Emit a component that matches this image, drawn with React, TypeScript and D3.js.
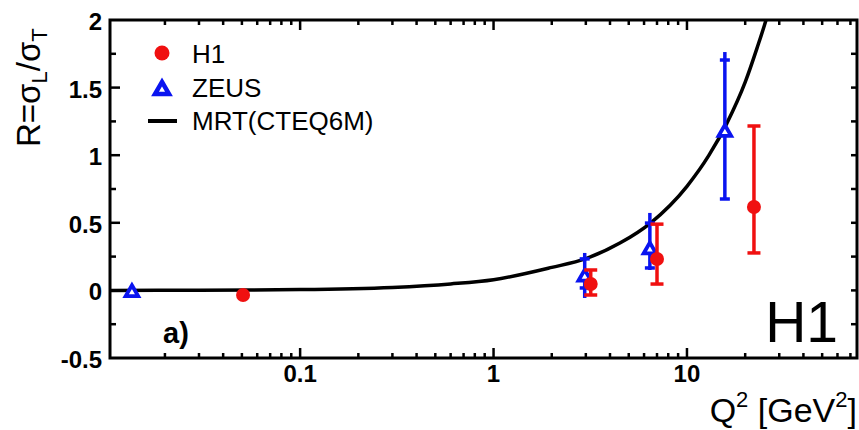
import React from "react";
import * as d3 from "d3";

// ---- data ----
const h1Q2 = [0.0507, 3.18, 7.0, 22.2];
const h1R = [-0.034, 0.047, 0.232, 0.617];
const h1Lo = [-0.034, -0.034, 0.047, 0.277];
const h1Hi = [-0.034, 0.151, 0.49, 1.216];

const zeusQ2 = [0.0135, 2.96, 6.43, 15.7];
const zeusR = [-0.015, 0.099, 0.3, 1.17];
const zeusStatLo = [-0.015, 0.018, 0.166, 0.676];
const zeusStatHi = [-0.015, 0.233, 0.498, 1.704];
const zeusTotLo = [-0.015, -0.056, 0.151, 0.669];
const zeusTotHi = [-0.015, 0.277, 0.573, 1.763];

const mrtQ2 = [0.0104, 0.03, 0.1, 0.3, 0.6, 1, 2, 3, 4.5, 6.5, 10, 13, 16, 20, 23, 26, 28];
const mrtR = [0.0, 0.002, 0.006, 0.022, 0.048, 0.079, 0.17, 0.235, 0.35, 0.5, 0.77, 1.0, 1.23, 1.54, 1.79, 2.03, 2.2];

const xMajorTicks = [0.1, 1, 10];
const xTickLabels = ["0.1", "1", "10"];
const yMajorTicks = [-0.5, 0, 0.5, 1, 1.5, 2];
const yTickLabels = ["-0.5", "0", "0.5", "1", "1.5", "2"];

const W = 859;
const H = 430;
const L = 110, R = 857, T = 20, B = 358;

const FONT = "'Liberation Sans', Arial, Helvetica, sans-serif";
const RED = "#f01010";
const BLUE = "#0a14f0";

export default function App() {
  const x = d3.scaleLog().domain([0.0104, 75.7]).range([L, R]);
  const y = d3.scaleLinear().domain([-0.5, 2]).range([B, T]);

  const xMinor: number[] = [];
  for (const dec of [0.01, 0.1, 1, 10]) {
    for (let k = 2; k <= 9; k++) {
      const v = dec * k;
      if (v > 0.0104 && v < 75.7) xMinor.push(v);
    }
  }
  const yMinor = d3.range(-0.25, 2, 0.5);

  const line = d3
    .line<[number, number]>()
    .x((d) => x(d[0]))
    .y((d) => y(d[1]))
    .curve(d3.curveMonotoneX);
  const mrtPath = line(mrtQ2.map((q, i) => [q, mrtR[i]] as [number, number])) || "";

  const tri = (cx: number, cy: number, s: number) => {
    const h = (s * Math.sqrt(3)) / 2;
    return `M${cx},${cy - (2 * h) / 3}L${cx + s / 2},${cy + h / 3}L${cx - s / 2},${cy + h / 3}Z`;
  };

  return (
    <svg
      width={W}
      height={H}
      style={{ position: "absolute", left: 0, top: 0, background: "#fff" }}
      fontFamily={FONT}
    >
      <defs>
        <clipPath id="plotclip">
          <rect x={L} y={T} width={R - L} height={B - T} />
        </clipPath>
      </defs>
      <rect x={0} y={0} width={W} height={H} fill="#fff" />

      {/* curve */}
      <path d={mrtPath} fill="none" stroke="#000" strokeWidth={3.5} clipPath="url(#plotclip)" />

      {/* ZEUS */}
      {zeusQ2.map((q, i) => {
        const cx = x(q);
        const hasErr = zeusTotHi[i] - zeusTotLo[i] > 0.01;
        return (
          <g key={"z" + i}>
            {hasErr && (
              <>
                <line x1={cx} x2={cx} y1={y(zeusTotLo[i])} y2={y(zeusTotHi[i])} stroke={BLUE} strokeWidth={3.5} />
                <line x1={cx - 5} x2={cx + 5} y1={y(zeusStatHi[i])} y2={y(zeusStatHi[i])} stroke={BLUE} strokeWidth={3.5} />
                <line x1={cx - 5} x2={cx + 5} y1={y(zeusStatLo[i])} y2={y(zeusStatLo[i])} stroke={BLUE} strokeWidth={3.5} />
              </>
            )}
            <path d={tri(cx, y(zeusR[i]), 12.5)} fill="#fff" stroke={BLUE} strokeWidth={3.8} />
          </g>
        );
      })}

      {/* H1 */}
      {h1Q2.map((q, i) => {
        const cx = x(q);
        const hasErr = h1Hi[i] - h1Lo[i] > 0.01;
        return (
          <g key={"h" + i}>
            {hasErr && (
              <>
                <line x1={cx} x2={cx} y1={y(h1Lo[i])} y2={y(h1Hi[i])} stroke={RED} strokeWidth={3.5} />
                <line x1={cx - 6.5} x2={cx + 6.5} y1={y(h1Hi[i])} y2={y(h1Hi[i])} stroke={RED} strokeWidth={3.5} />
                <line x1={cx - 6.5} x2={cx + 6.5} y1={y(h1Lo[i])} y2={y(h1Lo[i])} stroke={RED} strokeWidth={3.5} />
              </>
            )}
            <circle cx={cx} cy={y(h1R[i])} r={7} fill={RED} />
          </g>
        );
      })}

      {/* ticks */}
      <g stroke="#000" strokeWidth={2.5}>
        {xMajorTicks.map((v) => (
          <g key={"xM" + v}>
            <line x1={x(v)} x2={x(v)} y1={B} y2={B - 10} />
            <line x1={x(v)} x2={x(v)} y1={T} y2={T + 10} />
          </g>
        ))}
        {xMinor.map((v) => (
          <g key={"xm" + v}>
            <line x1={x(v)} x2={x(v)} y1={B} y2={B - 5} />
            <line x1={x(v)} x2={x(v)} y1={T} y2={T + 5} />
          </g>
        ))}
        {yMajorTicks.slice(1, -1).map((v) => (
          <g key={"yM" + v}>
            <line x1={L} x2={L + 10} y1={y(v)} y2={y(v)} />
            <line x1={R} x2={R - 6} y1={y(v)} y2={y(v)} />
          </g>
        ))}
        {yMinor.map((v) => (
          <g key={"ym" + v}>
            <line x1={L} x2={L + 6} y1={y(v)} y2={y(v)} />
            <line x1={R} x2={R - 6} y1={y(v)} y2={y(v)} />
          </g>
        ))}
      </g>

      {/* frame */}
      <rect x={L} y={T} width={R - L} height={B - T} fill="none" stroke="#000" strokeWidth={3} />

      {/* tick labels */}
      <g fontWeight="bold" fontSize={24} fill="#000">
        {xMajorTicks.map((v, i) => (
          <text key={"xl" + v} x={x(v)} y={382} textAnchor="middle">
            {xTickLabels[i]}
          </text>
        ))}
        {yMajorTicks.map((v, i) => (
          <text key={"yl" + v} x={102} y={y(v) + 10} textAnchor="end">
            {yTickLabels[i]}
          </text>
        ))}
      </g>

      {/* axis titles */}
      <text transform={`translate(40,147) rotate(-90)`} fontSize={33} fill="#000">
        R=σ
        <tspan fontSize={22} dy={7}>L</tspan>
        <tspan dy={-7}>/σ</tspan>
        <tspan fontSize={22} dy={7}>T</tspan>
      </text>
      <text x={857} y={422} textAnchor="end" fontSize={34} fill="#000">
        Q<tspan fontSize={22} dy={-15}>2</tspan>
        <tspan dy={15}> [GeV</tspan>
        <tspan fontSize={22} dy={-15}>2</tspan>
        <tspan dy={15}>]</tspan>
      </text>

      {/* labels inside */}
      <text x={163} y={343} fontSize={29} fontWeight="bold" fill="#000">a)</text>
      <text x={838} y={342} textAnchor="end" fontSize={57} fill="#000">H1</text>

      {/* legend */}
      <circle cx={162} cy={53} r={7.5} fill={RED} />
      <text x={192} y={63} fontSize={26} fill="#000">H1</text>
      <path d={tri(162, 90, 14)} fill="#fff" stroke={BLUE} strokeWidth={4.5} />
      <text x={192} y={97} fontSize={26} fill="#000">ZEUS</text>
      <line x1={148} x2={177} y1={121} y2={121} stroke="#000" strokeWidth={4} />
      <text x={192} y={130} fontSize={26} fill="#000">MRT(CTEQ6M)</text>
    </svg>
  );
}
